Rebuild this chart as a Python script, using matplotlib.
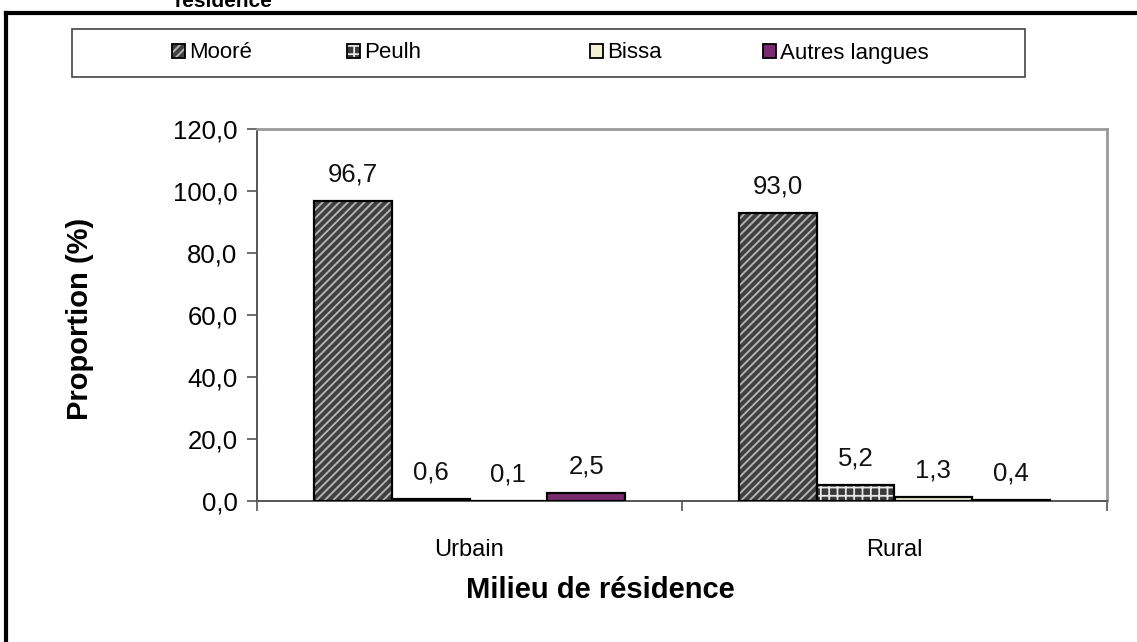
import matplotlib
import numpy as np

matplotlib.use("Agg")
import matplotlib.pyplot as plt  # noqa: E402
from matplotlib.lines import Line2D  # noqa: E402
from matplotlib.patches import Rectangle  # noqa: E402

plt.rcParams["font.family"] = ["Liberation Sans", "DejaVu Sans"]
plt.rcParams["hatch.linewidth"] = 1.3

# Data
milieux = ["Urbain", "Rural"]
langues = ["Mooré", "Peulh", "Bissa", "Autres langues"]
moore = [96.7, 93.0]
peulh = [0.6, 5.2]
bissa = [0.1, 1.3]
autres = [2.5, 0.4]
series = [moore, peulh, bissa, autres]

faces = ["#404040", "#3a3a3a", "#f4f0d4", "#7a2a6e"]
hatch_cols = ["#b8b8b8", "#e8e8e8", None, None]
hatches = ["////", "++", None, None]
legend_x = [172, 347, 590, 763]  # pixel x of each legend marker

W, H = 1137, 642
fig = plt.figure(figsize=(W / 100, H / 100), dpi=100)
ax = fig.add_axes([257 / W, 1 - 501 / H, (1107 - 257) / W, (501 - 129) / H])

x = np.arange(len(milieux))
bw = 0.183
handles = []
for i, (vals, name) in enumerate(zip(series, langues)):
    pos = x + (i - 1.5) * bw
    if hatches[i]:
        ax.bar(pos, vals, bw, color=faces[i], edgecolor=hatch_cols[i],
               hatch=hatches[i], linewidth=0, zorder=2)
    else:
        ax.bar(pos, vals, bw, color=faces[i], linewidth=0, zorder=2)
    ax.bar(pos, vals, bw, fill=False, edgecolor="black", linewidth=1.6, zorder=3)
    for px, v in zip(pos, vals):
        ax.annotate(f"{v:.1f}".replace(".", ","), (px, v), xytext=(0, 19),
                    textcoords="offset points", ha="center", va="center",
                    fontsize=18.5, color="#111111")
    fill = Rectangle((0, 0), 1, 1, facecolor=faces[i],
                     edgecolor=hatch_cols[i] or faces[i], hatch=hatches[i],
                     linewidth=0)
    edge = Rectangle((0, 0), 1, 1, fill=False, edgecolor="black", linewidth=1.3)
    handles.append((fill, edge))

ax.set_xlim(-0.5, 1.5)
ax.set_ylim(0, 120)
ax.set_yticks(np.arange(0, 121, 20))
ax.set_yticklabels([f"{t:.1f}".replace(".", ",") for t in np.arange(0, 121, 20)],
                   fontsize=18.5)
ax.set_xticks(x)
ax.set_xticklabels(milieux, fontsize=17)
ax.set_xticks([-0.5, 0.5, 1.5], minor=True)
ax.tick_params(axis="x", which="major", length=0, pad=27)
ax.tick_params(axis="x", which="minor", length=7, width=1.2, color="#555555")
ax.tick_params(axis="y", length=7, width=1.2, color="#555555", pad=7)

for s in ["left", "bottom"]:
    ax.spines[s].set_color("#555555")
    ax.spines[s].set_linewidth(1.4)
for s in ["top", "right"]:
    ax.spines[s].set_color("#999999")
    ax.spines[s].set_linewidth(2)

ax.set_ylabel("Proportion (%)", fontsize=21, fontweight="bold")
ax.yaxis.set_label_coords(-(257 - 80) / 850, 0.49)
ax.set_xlabel("Milieu de résidence", fontsize=21, fontweight="bold")
ax.xaxis.set_label_coords((600 - 257) / 850, -(590 - 501) / 372)
ax.xaxis.label.set_va("center")
ax.yaxis.label.set_va("center")

# legend box, then one frameless entry per language at its own spot
fig.patches.append(Rectangle((72 / W, 1 - 77 / H), (1025 - 72) / W, 48 / H,
                             transform=fig.transFigure, facecolor="white",
                             edgecolor="#444444", linewidth=1.2))
for h, name, lx in zip(handles, langues, legend_x):
    fig.legend([h], [name], loc="center left",
               bbox_to_anchor=(lx / W, 1 - 53 / H), frameon=False,
               fontsize=16, handlelength=0.6, handleheight=0.6,
               handletextpad=0.15, borderpad=0, borderaxespad=0)

# outer frame and clipped title remnant
fig.add_artist(Line2D([6 / W, 1], [1 - 13 / H] * 2, color="black", lw=3))
fig.add_artist(Line2D([6 / W] * 2, [0, 1 - 13 / H], color="black", lw=3))
fig.text(175 / W, 1 - 7 / H, "résidence", fontsize=15, fontweight="bold",
         va="baseline", ha="left")

fig.savefig("out.png", dpi=100)
